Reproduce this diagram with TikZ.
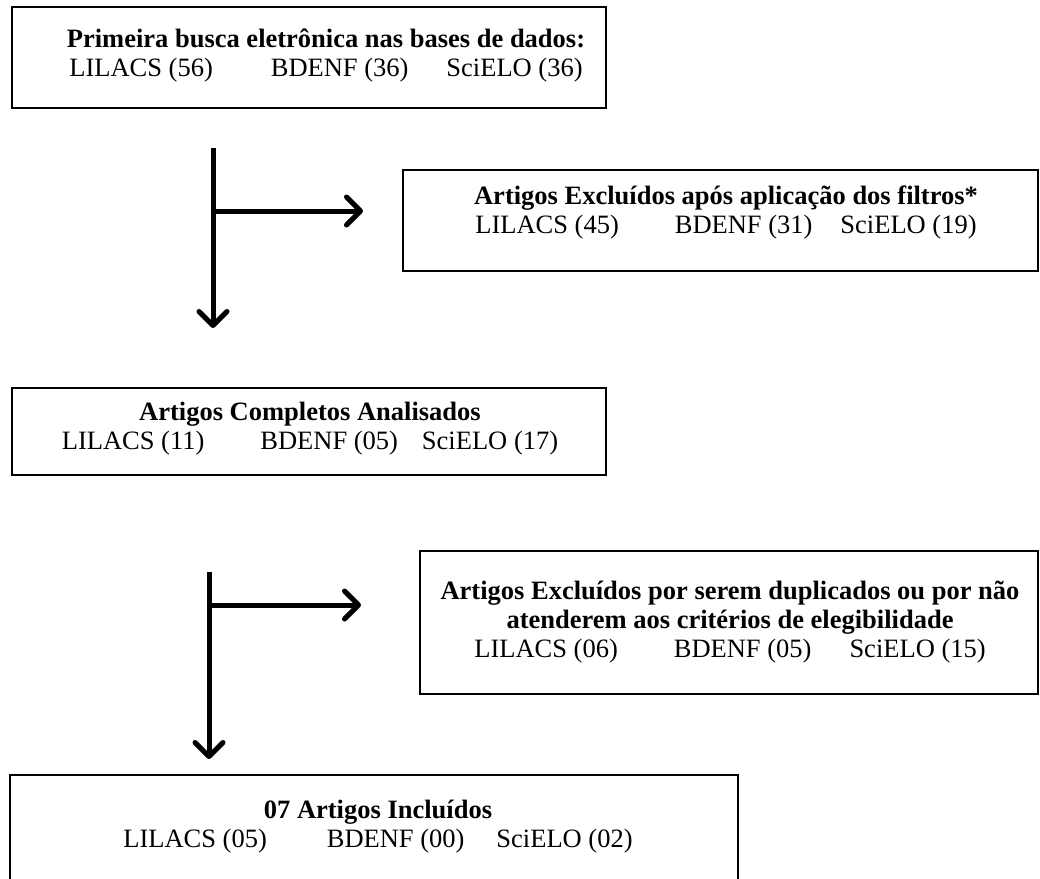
\documentclass[tikz,border=0pt]{standalone}
\usepackage{fontspec}
\setmainfont{Liberation Serif}
\usetikzlibrary{arrows.meta}
\begin{document}
\begin{tikzpicture}[x=1pt,y=-1pt,
  box/.style={draw,line width=2.5pt,inner sep=0pt},
  lbl/.style={align=center,font=\fontsize{26.5}{29}\selectfont,inner sep=0pt},
  arr/.style={line width=5pt,-{Straight Barb[length=14pt,width=28pt,line cap=round,round]}}]
\useasboundingbox (0,0) rectangle (1040,878);
% boxes
\node[box,minimum width=594pt,minimum height=101pt] (b1) at (309,57.5) {};
\node[box,minimum width=635pt,minimum height=101pt] (b2) at (720.5,220.5) {};
\node[box,minimum width=594pt,minimum height=87pt] (b3) at (309,431.5) {};
\node[box,minimum width=618pt,minimum height=143pt] (b4) at (729,622.5) {};
\node[box,minimum width=728pt,minimum height=120pt] (b5) at (374,835) {};
% texts
\node[lbl] (t1) at (326,55) {\textbf{Primeira busca eletrônica nas bases de dados:}\\LILACS (56)\hspace{58pt}BDENF (36)\hspace{38pt}SciELO (36)};
\node[lbl] (t2) at (726,212) {\textbf{Artigos Excluídos após aplicação dos filtros*}\\LILACS (45)\hspace{56pt}BDENF (31)\hspace{28pt}SciELO (19)};
\node[lbl] (t3) at (310,429) {\textbf{Artigos Completos Analisados}\\LILACS (11)\hspace{56pt}BDENF (05)\hspace{24pt}SciELO (17)};
\node[lbl] (t4) at (730,622) {\textbf{Artigos Excluídos por serem duplicados ou por não}\\\textbf{atenderem aos critérios de elegibilidade}\\LILACS (06)\hspace{56pt}BDENF (05)\hspace{38pt}SciELO (15)};
\node[lbl] (t5) at (378,827) {\textbf{07 Artigos Incluídos}\\LILACS (05)\hspace{60pt}BDENF (00)\hspace{32pt}SciELO (02)};
% connectors
\coordinate (a1s) at (213,148);
\coordinate (a1e) at (213,328);
\coordinate (a1j) at (213,211);
\coordinate (a1h) at (363,211);
\coordinate (a2s) at (209,572);
\coordinate (a2e) at (209,759);
\coordinate (a2j) at (209,605);
\coordinate (a2h) at (361,605);
\draw[arr] (a1s) -- (a1e);
\draw[arr] (a1j) -- (a1h);
\draw[arr] (a2s) -- (a2e);
\draw[arr] (a2j) -- (a2h);
\end{tikzpicture}
\end{document}
